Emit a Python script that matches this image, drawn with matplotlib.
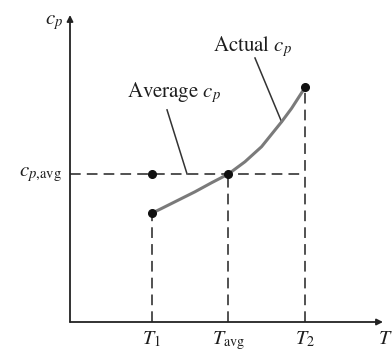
import matplotlib
matplotlib.use("Agg")
import matplotlib.pyplot as plt

plt.rcParams['mathtext.fontset'] = 'stix'
plt.rcParams['font.family'] = ['STIXGeneral', 'Liberation Serif', 'DejaVu Serif']

# Key temperatures (fraction of axis length) and cp values
T_keys = [0.261, 0.506, 0.751]          # T1, Tavg, T2
T_labels = [r'$T_1$', r'$T_{\rm avg}$', r'$T_2$']
cp_keys = [0.354, 0.482, 0.764]          # cp(T1), cp(Tavg)=cp_avg, cp(T2)
cp_avg = 0.482

# Actual cp curve
curve_T = [0.261, 0.293, 0.346, 0.399, 0.453, 0.506, 0.559, 0.612, 0.676, 0.708, 0.751]
curve_cp = [0.354, 0.370, 0.397, 0.424, 0.454, 0.482, 0.522, 0.571, 0.652, 0.696, 0.764]

fig = plt.figure(figsize=(3.92, 3.52), dpi=100)
ax = fig.add_axes([70/392, 30/352, 313/392, 307/352])
ax.set_xlim(0, 1)
ax.set_ylim(0, 1)
ax.axis('off')

dash = (0, (7, 4))
lc = '#222222'
tc = '#1e1e1e'

# curve
ax.plot(curve_T, curve_cp, color='#7a7a7a', lw=2.2, solid_capstyle='round',
        solid_joinstyle='round', zorder=3)

# dashed guides
ax.plot([0, T_keys[2]], [cp_avg, cp_avg], color=lc, lw=1.1, linestyle=dash, zorder=2)
for t, c in zip(T_keys, cp_keys):
    ax.plot([t, t], [0, c], color=lc, lw=1.1, linestyle=dash, zorder=2)

# points
ax.plot(T_keys, cp_keys, 'o', color='#111111', ms=5.5, zorder=4)
ax.plot([T_keys[0]], [cp_avg], 'o', color='#111111', ms=5.5, zorder=4)

# axes with arrows
ax.annotate('', xy=(1.0, 0), xytext=(0, 0),
            arrowprops=dict(arrowstyle='-|>', color=lc, lw=1.3, mutation_scale=9,
                            shrinkA=0, shrinkB=0), annotation_clip=False)
ax.annotate('', xy=(0, 1.0), xytext=(0, 0),
            arrowprops=dict(arrowstyle='-|>', color=lc, lw=1.3, mutation_scale=9,
                            shrinkA=0, shrinkB=0), annotation_clip=False)

# axis labels
fs = 15
ax.text(-0.022, 0.977, r'$c_p$', fontsize=fs, ha='right', va='center', color=tc)
ax.text(1.006, -0.072, r'$T$', fontsize=14.5, ha='center', va='baseline', color=tc)
ax.text(-0.026, cp_avg, r'$c_{p{,}\rm avg}$', fontsize=fs, ha='right', va='center', color=tc)
for t, lab in zip(T_keys, T_labels):
    ax.text(t, -0.072, lab, fontsize=14.5, ha='center', va='baseline', color=tc)

# annotations with leader lines
ax.text(0.332, 0.746, r'Average $c_p$', fontsize=fs, ha='center', va='center', color=tc)
ax.plot([0.310, 0.374], [0.691, cp_avg], color='#333333', lw=1.1)
ax.text(0.582, 0.896, r'Actual $c_p$', fontsize=fs, ha='center', va='center', color=tc)
ax.plot([0.591, 0.676], [0.860, 0.652], color='#333333', lw=1.1)

fig.savefig('out.png', dpi=100)
